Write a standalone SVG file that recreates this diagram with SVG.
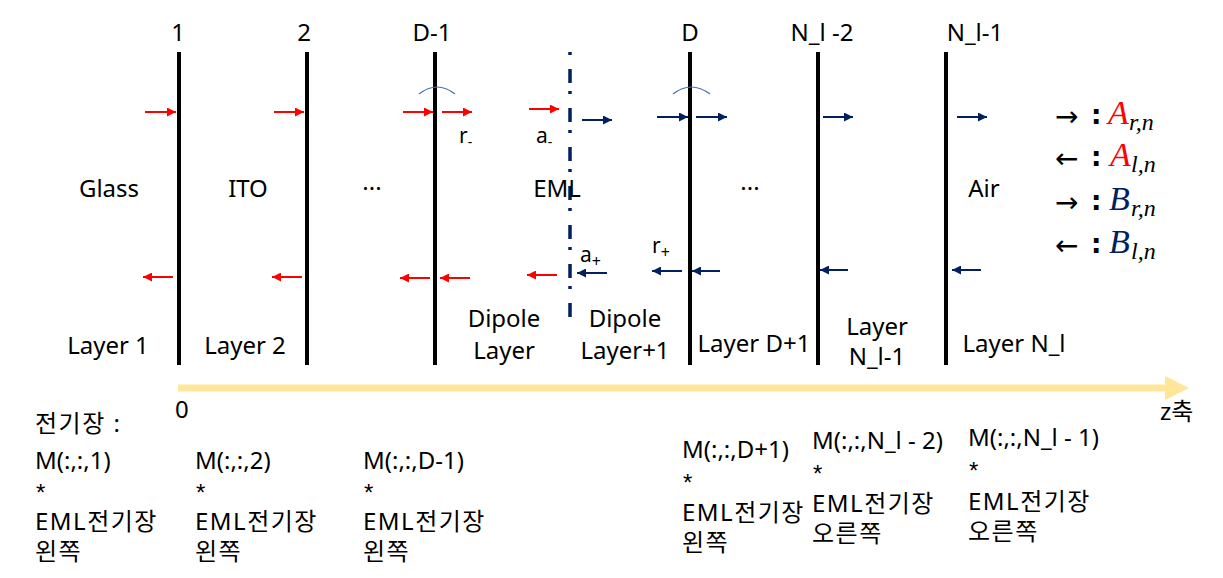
<svg xmlns="http://www.w3.org/2000/svg" width="1223" height="578" viewBox="0 0 1223 578">
<defs>
<marker id="hr" viewBox="0 0 10 10" refX="10" refY="5" markerWidth="5" markerHeight="4.5" orient="auto" markerUnits="strokeWidth"><path d="M0,0 L10,5 L0,10 z" fill="#FF0000"/></marker>
<marker id="hb" viewBox="0 0 10 10" refX="10" refY="5" markerWidth="5" markerHeight="4.5" orient="auto" markerUnits="strokeWidth"><path d="M0,0 L10,5 L0,10 z" fill="#002060"/></marker>
</defs>
<style>
text{font-family:"Noto Sans","Noto Sans CJK KR",sans-serif;font-size:24px;fill:#000}
.c{text-anchor:middle}
.sm{font-size:21px}
.k{letter-spacing:1.5px}
.st{font-family:"Liberation Sans",sans-serif;font-size:24px}
.bd{stroke:#000;stroke-width:4}
.r{stroke:#FF0000;stroke-width:2;fill:none;marker-end:url(#hr)}
.b{stroke:#002060;stroke-width:2;fill:none;marker-end:url(#hb)}
.arc{stroke:#4472C4;stroke-width:1.2;fill:none}
.m{font-family:"Liberation Serif","DejaVu Serif",serif;font-style:italic;font-size:34px}
.red{fill:#FF0000}
.navy{fill:#002060}
.ms{font-family:"Liberation Serif","DejaVu Serif",serif;font-style:italic;font-size:24px;fill:#000}
.sym{font-family:"DejaVu Sans",sans-serif;font-size:28px}
.col{font-family:"DejaVu Sans",sans-serif;font-size:26px;font-weight:bold}
</style>
<rect width="1223" height="578" fill="#fff"/>

<g id="boundaries">
<line class="bd" x1="179" y1="52" x2="179" y2="365"/>
<line class="bd" x1="307" y1="52" x2="307" y2="365"/>
<line class="bd" x1="435" y1="52" x2="435" y2="365"/>
<line class="bd" x1="690" y1="52" x2="690" y2="365"/>
<line class="bd" x1="818" y1="52" x2="818" y2="365"/>
<line class="bd" x1="946" y1="52" x2="946" y2="365"/>
<line x1="570" y1="52" x2="570" y2="322" stroke="#002060" stroke-width="3.5" stroke-dasharray="3 14 14 8"/>
</g>

<g id="boundary-labels">
<text class="c" x="178" y="41">1</text>
<text class="c" x="304" y="41">2</text>
<text class="c" x="432" y="41">D-1</text>
<text class="c" x="690" y="41">D</text>
<text class="c" x="822" y="41">N_l -2</text>
<text class="c" x="975" y="41">N_l-1</text>
</g>

<g id="connectors">
<line class="r" x1="145" y1="112" x2="176" y2="112"/>
<line class="r" x1="274" y1="112" x2="304" y2="112"/>
<line class="r" x1="403" y1="112" x2="433" y2="112"/>
<line class="r" x1="442" y1="112" x2="472" y2="112"/>
<line class="r" x1="529" y1="109" x2="559" y2="109"/>
<line class="b" x1="582" y1="120" x2="612" y2="120"/>
<line class="b" x1="657" y1="117" x2="688" y2="117"/>
<line class="b" x1="696" y1="117" x2="727" y2="117"/>
<line class="b" x1="823" y1="117" x2="853" y2="117"/>
<line class="b" x1="957" y1="117" x2="987" y2="117"/>

<line class="r" x1="173" y1="277" x2="143" y2="277"/>
<line class="r" x1="302" y1="277" x2="272" y2="277"/>
<line class="r" x1="430" y1="278" x2="400" y2="278"/>
<line class="r" x1="470" y1="278" x2="440" y2="278"/>
<line class="r" x1="557" y1="275" x2="527" y2="275"/>
<line class="b" x1="607" y1="273" x2="577" y2="273"/>
<line class="b" x1="682" y1="271" x2="652" y2="271"/>
<line class="b" x1="720" y1="271" x2="692" y2="271"/>
<line class="b" x1="848" y1="270" x2="820" y2="270"/>
<line class="b" x1="981" y1="270" x2="952" y2="270"/>

<path class="arc" d="M419,94 Q437,80 455,94"/>
<path class="arc" d="M673,94 Q691,80 710,94"/>
</g>

<g id="coef-labels">
<text x="459" y="143" class="sm">r<tspan font-size="14" dy="4">-</tspan></text>
<text x="536" y="143" class="sm">a<tspan font-size="14" dy="4">-</tspan></text>
<text x="580" y="262" class="sm">a<tspan font-size="16" dy="5">+</tspan></text>
<text x="652" y="253" class="sm">r<tspan font-size="16" dy="5">+</tspan></text>
</g>

<g id="layer-names">
<text class="c" x="109" y="197">Glass</text>
<text class="c" x="248" y="197">ITO</text>
<text class="c" x="372" y="197">···</text>
<text class="c" x="557" y="197">EML</text>
<text class="c" x="750" y="197">···</text>
<text class="c" x="984" y="197">Air</text>
</g>

<g id="layer-indices">
<text class="c" x="108" y="354">Layer 1</text>
<text class="c" x="245" y="354">Layer 2</text>
<text class="c" x="504" y="327">Dipole</text>
<text class="c" x="504" y="359">Layer</text>
<text class="c" x="625" y="327">Dipole</text>
<text class="c" x="625" y="359">Layer+1</text>
<text class="c" x="754" y="352">Layer D+1</text>
<text class="c" x="877" y="335">Layer</text>
<text class="c" x="877" y="365">N_l-1</text>
<text class="c" x="1014" y="352">Layer N_l</text>
</g>

<g id="legend">
<text class="sym" x="1055" y="126">→</text><text class="col" x="1091" y="124">:</text>
<text class="m red" x="1108" y="124">A</text><text class="ms" x="1129" y="130">r,n</text>
<text class="sym" x="1055" y="168">←</text><text class="col" x="1091" y="166">:</text>
<text class="m red" x="1110" y="166">A</text><text class="ms" x="1131" y="172">l,n</text>
<text class="sym" x="1055" y="212">→</text><text class="col" x="1091" y="210">:</text>
<text class="m navy" x="1109" y="210">B</text><text class="ms" x="1131" y="216">r,n</text>
<text class="sym" x="1055" y="255">←</text><text class="col" x="1091" y="253">:</text>
<text class="m navy" x="1109" y="253">B</text><text class="ms" x="1131" y="259">l,n</text>
</g>

<g id="z-axis">
<line x1="178" y1="388" x2="1168" y2="388" stroke="#FFE699" stroke-width="7"/>
<path d="M1165,376 L1189,388 L1165,400 z" fill="#FFE699"/>
<text x="175" y="418">0</text>
<text x="1160" y="420">z축</text>
</g>

<g id="fields">
<text x="35" y="432" class="k">전기장 :</text>
<text x="35" y="469">M(:,:,1)</text>
<text x="36" y="501" class="st">*</text>
<text x="35" y="530" class="k">EML전기장</text>
<text x="35" y="560" class="k">왼쪽</text>

<text x="195" y="469">M(:,:,2)</text>
<text x="196" y="501" class="st">*</text>
<text x="195" y="530" class="k">EML전기장</text>
<text x="195" y="560" class="k">왼쪽</text>

<text x="363" y="469">M(:,:,D-1)</text>
<text x="364" y="501" class="st">*</text>
<text x="363" y="530" class="k">EML전기장</text>
<text x="363" y="560" class="k">왼쪽</text>

<text x="682" y="458">M(:,:,D+1)</text>
<text x="683" y="491" class="st">*</text>
<text x="682" y="521" class="k">EML전기장</text>
<text x="682" y="551" class="k">왼쪽</text>

<text x="812" y="449">M(:,:,N_l - 2)</text>
<text x="813" y="482" class="st">*</text>
<text x="812" y="512" class="k">EML전기장</text>
<text x="812" y="542" class="k">오른쪽</text>

<text x="968" y="446">M(:,:,N_l - 1)</text>
<text x="969" y="479" class="st">*</text>
<text x="968" y="510" class="k">EML전기장</text>
<text x="968" y="540" class="k">오른쪽</text>
</g>
</svg>
